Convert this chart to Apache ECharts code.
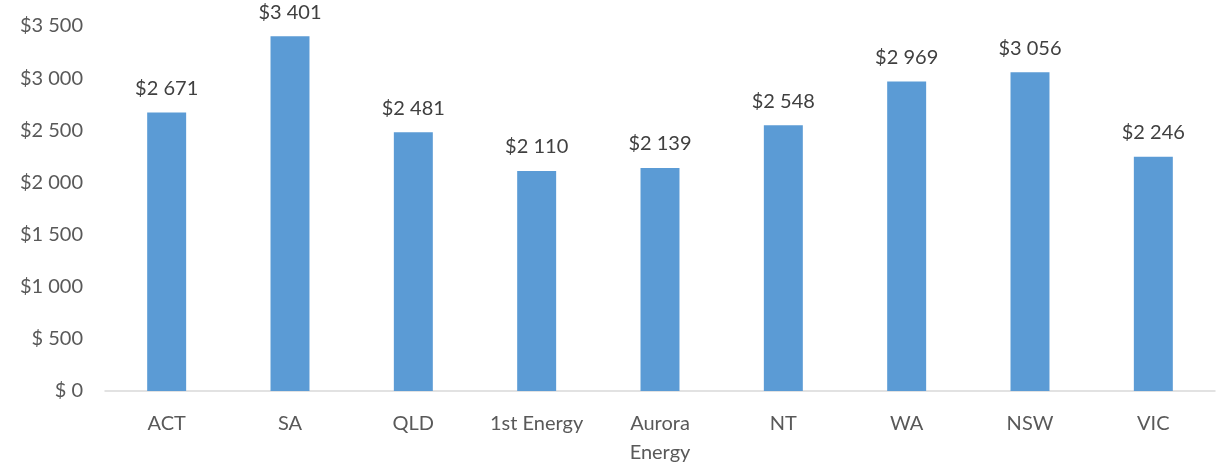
<!DOCTYPE html>
<html>
<head>
<meta charset="utf-8">
<script src="https://cdn.jsdelivr.net/npm/echarts@6/dist/echarts.min.js"></script>
<style>
html, body { margin: 0; padding: 0; background: #fff; }
#chart { width: 1218px; height: 467px; }
</style>
</head>
<body>
<div id="chart"></div>
<script>
var categories = ['ACT', 'SA', 'QLD', '1st Energy', 'Aurora\nEnergy', 'NT', 'WA', 'NSW', 'VIC'];
var costs = [2671, 3401, 2481, 2110, 2139, 2548, 2969, 3056, 2246];

function money(v) {
    var s = String(Math.round(v));
    if (s.length > 3) {
        s = s.slice(0, s.length - 3) + ' ' + s.slice(s.length - 3);
    } else {
        s = ' ' + s;
    }
    return '$' + s;
}

var chart = echarts.init(document.getElementById('chart'));
chart.setOption({
    animation: false,
    textStyle: { fontFamily: 'Lato, "Open Sans", sans-serif' },
    grid: { left: 105, right: 3, top: 26, bottom: 74 },
    xAxis: {
        type: 'category',
        data: categories,
        axisLine: { lineStyle: { color: '#d9d9d9', width: 1.5 } },
        axisTick: { show: false },
        axisLabel: { color: '#595959', fontSize: 20, margin: 18, lineHeight: 29, interval: 0 }
    },
    yAxis: {
        type: 'value',
        min: 0,
        max: 3500,
        interval: 500,
        splitLine: { show: false },
        axisLine: { show: false },
        axisTick: { show: false },
        axisLabel: { color: '#595959', fontSize: 20, margin: 22, formatter: money }
    },
    series: [{
        type: 'bar',
        data: costs,
        barWidth: '31.6%',
        itemStyle: { color: '#5b9bd5' },
        label: {
            show: true,
            position: 'top',
            distance: 14,
            color: '#404040',
            fontSize: 20,
            formatter: function (p) { return money(p.value); }
        }
    }]
});
</script>
</body>
</html>
